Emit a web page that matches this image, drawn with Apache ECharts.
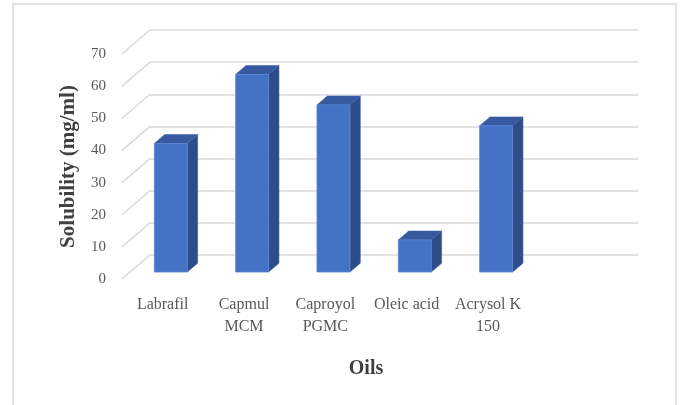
<!DOCTYPE html>
<html>
<head>
<meta charset="utf-8">
<script src="https://cdn.jsdelivr.net/npm/echarts@6/dist/echarts.min.js"></script>
<style>
  html, body { margin: 0; padding: 0; background: #ffffff; }
  #chart { width: 682px; height: 405px; }
</style>
</head>
<body>
<div id="chart"></div>
<script>
// Oil solubility data
const oils = ['Labrafil', 'Capmul\nMCM', 'Caproyol\nPGMC', 'Oleic acid', 'Acrysol K\n150', ''];
const solubility = [40, 61.5, 52, 10, 45.5];
const yMin = 0, yMax = 70, yStep = 10;
const yTicks = [0, 10, 20, 30, 40, 50, 60, 70];

// Oblique projection of the 3D box: offset from the front plane to the back wall
const DEPTH = [28, -24];
// Bar placement inside the depth and across the category band
const BAR_FRONT = 0.29;
const BAR_BACK = 0.66;
const BAR_WIDTH = 0.405;

const SERIF = '"Liberation Serif", "Times New Roman", serif';
const GRID_COLOR = '#d9d9d9';

const chart = echarts.init(document.getElementById('chart'), null, { renderer: 'canvas' });

function renderSideGrid(params, api) {
  const cs = params.coordSys;
  const p = api.coord([0, api.value(1)]);
  const x = cs.x, y = p[1];
  return {
    type: 'line',
    shape: { x1: x, y1: y, x2: x + DEPTH[0], y2: y + DEPTH[1] },
    style: { stroke: GRID_COLOR, lineWidth: 1.5 }
  };
}

function renderBar(params, api) {
  const i = api.value(0), v = api.value(1);
  const base = api.coord([i, 0]);
  const top = api.coord([i, v]);
  const band = api.size([1, 0])[0];
  const bw = band * BAR_WIDTH;
  const fx = DEPTH[0] * BAR_FRONT, fy = DEPTH[1] * BAR_FRONT;
  const dx = DEPTH[0] * (BAR_BACK - BAR_FRONT), dy = DEPTH[1] * (BAR_BACK - BAR_FRONT);
  const x0 = base[0] - bw / 2 + fx, x1 = x0 + bw;
  const yb = base[1] + fy, yt = top[1] + fy;
  return {
    type: 'group',
    children: [
      {
        type: 'polygon',
        shape: { points: [[x1, yb], [x1, yt], [x1 + dx, yt + dy], [x1 + dx, yb + dy]] },
        style: { fill: '#2C4D88', stroke: '#3a5d9c', lineWidth: 0.6 }
      },
      {
        type: 'polygon',
        shape: { points: [[x0, yt], [x1, yt], [x1 + dx, yt + dy], [x0 + dx, yt + dy]] },
        style: { fill: '#36599F', stroke: '#4169b0', lineWidth: 0.6 }
      },
      {
        type: 'rect',
        shape: { x: x0, y: yt, width: bw, height: yb - yt },
        style: { fill: '#4472C4', stroke: '#5b87d4', lineWidth: 0.8 }
      }
    ]
  };
}

chart.setOption({
  backgroundColor: '#ffffff',
  animation: false,
  graphic: [
    {
      type: 'rect',
      shape: { x: 13, y: 4, width: 663, height: 430 },
      style: { fill: 'none', stroke: '#d9d9d9', lineWidth: 1.5 },
      silent: true
    }
  ],
  grid: [
    // front plane (axes and labels)
    { left: 122, right: 72, top: 54, bottom: 126 },
    // back wall (gridlines)
    { left: 150, right: 44, top: 30, bottom: 150 }
  ],
  xAxis: [
    {
      gridIndex: 0,
      type: 'category',
      data: oils,
      axisLine: { show: false },
      axisTick: { show: false },
      axisLabel: {
        interval: 0,
        margin: 15,
        fontFamily: SERIF,
        fontSize: 16,
        lineHeight: 22,
        color: '#595959'
      },
      name: 'Oils',
      nameLocation: 'middle',
      nameGap: 80,
      nameTextStyle: { fontFamily: SERIF, fontWeight: 'bold', fontSize: 20, color: '#404040' }
    },
    {
      gridIndex: 1,
      type: 'category',
      data: oils,
      show: false
    }
  ],
  yAxis: [
    {
      gridIndex: 0,
      type: 'value',
      min: yMin, max: yMax, interval: yStep,
      axisLine: { show: false },
      axisTick: { show: false },
      splitLine: { show: false },
      axisLabel: { margin: 16, fontFamily: SERIF, fontSize: 15, color: '#595959' },
      name: 'Solubility (mg/ml)',
      nameLocation: 'middle',
      nameGap: 43,
      nameTextStyle: { fontFamily: SERIF, fontWeight: 'bold', fontSize: 21, color: '#404040' }
    },
    {
      gridIndex: 1,
      type: 'value',
      min: yMin, max: yMax, interval: yStep,
      axisLine: { show: false },
      axisTick: { show: false },
      axisLabel: { show: false },
      splitLine: { show: true, lineStyle: { color: GRID_COLOR, width: 1.5 } }
    }
  ],
  series: [
    {
      type: 'custom',
      name: 'side wall',
      xAxisIndex: 0,
      yAxisIndex: 0,
      silent: true,
      z: 1,
      renderItem: renderSideGrid,
      data: yTicks.map(v => [0, v])
    },
    {
      type: 'custom',
      name: 'Solubility',
      xAxisIndex: 0,
      yAxisIndex: 0,
      z: 3,
      renderItem: renderBar,
      data: solubility.map((v, i) => [i, v])
    }
  ]
});
</script>
</body>
</html>
